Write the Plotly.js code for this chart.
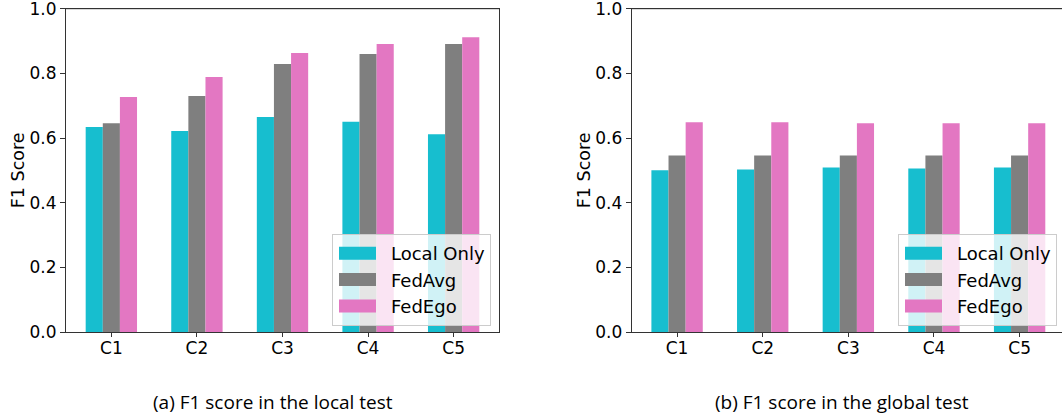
<!DOCTYPE html>
<html><head><meta charset="utf-8">
<script src="https://cdn.plot.ly/plotly-3.0.1.min.js"></script>
<style>html,body{margin:0;padding:0;overflow:hidden;background:#fff}#chart{width:1068px;height:417px}</style>
</head><body><div id="chart"></div>
<script>
const clients = ['C1','C2','C3','C4','C5'];
const methods = ['Local Only','FedAvg','FedEgo'];
const localTestLocalOnly = [0.634,0.622,0.665,0.650,0.612];
const localTestFedAvg    = [0.646,0.730,0.829,0.860,0.891];
const localTestFedEgo    = [0.727,0.789,0.863,0.891,0.912];
const globalTestLocalOnly = [0.500,0.503,0.509,0.506,0.509];
const globalTestFedAvg    = [0.546,0.546,0.546,0.546,0.546];
const globalTestFedEgo    = [0.649,0.649,0.646,0.646,0.646];
const yTicks = [0,0.2,0.4,0.6,0.8,1.0];
const captions = ['(a) F1 score in the local test','(b) F1 score in the global test'];
const colors = ['#17becf','#7f7f7f','#e377c2'];

const W = 1068, H = 417;
const font = 'DejaVu Sans';
const localSeries = [localTestLocalOnly, localTestFedAvg, localTestFedEgo];
const globalSeries = [globalTestLocalOnly, globalTestFedAvg, globalTestFedEgo];

const traces = [];
methods.forEach((m,i)=>{
  traces.push({type:'bar', x:clients, y:localSeries[i], name:m, marker:{color:colors[i], line:{width:0}},
    xaxis:'x', yaxis:'y', legend:'legend', legendgroup:'a'+i, hoverinfo:'none'});
});
methods.forEach((m,i)=>{
  traces.push({type:'bar', x:clients, y:globalSeries[i], name:m, marker:{color:colors[i], line:{width:0}},
    xaxis:'x2', yaxis:'y2', legend:'legend2', legendgroup:'b'+i, hoverinfo:'none'});
});

const yDom = [(H-332)/H, (H-8.7)/H];
const xDom1 = [66/W, 499/W];
const xDom2 = [631.7/W, 1065/W];

function xax(dom, anchor){
  return {domain:dom, anchor:anchor, type:'category', range:[-0.53,4.53], showgrid:false, zeroline:false,
    showline:true, linecolor:'#333', linewidth:1, mirror:true, ticks:'outside', ticklen:4, tickwidth:1, tickcolor:'#333',
    ticklabelstandoff:-3,
    tickfont:{family:font, size:17, color:'#000'}, fixedrange:true};
}
function yax(anchor){
  return {domain:yDom, anchor:anchor, range:[0,1], tickvals:yTicks, tickformat:'.1f', showgrid:false, zeroline:false,
    showline:true, linecolor:'#333', linewidth:1, mirror:true, ticks:'outside', ticklen:5, tickwidth:1, tickcolor:'#333',
    tickfont:{family:font, size:17, color:'#000'}, ticklabeloverflow:'allow',
    title:{text:'F1 Score', font:{family:font, size:17.5, color:'#000'}, standoff:0}, fixedrange:true};
}
function leg(xr){
  return {x:xr/W, xanchor:'right', y:(H-326)/H, yanchor:'bottom', bgcolor:'rgba(255,255,255,0.8)', bordercolor:'#cccccc',
    borderwidth:1, font:{family:font, size:18, color:'#000'}, itemwidth:48, traceorder:'grouped', tracegroupgap:0,
    itemclick:false, itemdoubleclick:false};
}
function topLine(xr, yr){
  return {type:'line', xref:xr+' domain', yref:yr+' domain', x0:0, x1:1, y0:1, y1:1, line:{color:'#333', width:1}, layer:'above'};
}

const layout = {
  width:W, height:H, margin:{l:0,r:0,t:0,b:0}, paper_bgcolor:'#fff', plot_bgcolor:'#fff',
  barmode:'group', bargap:0.4, bargroupgap:0, showlegend:true,
  xaxis:xax(xDom1,'y'), yaxis:yax('x'), xaxis2:xax(xDom2,'y2'), yaxis2:yax('x2'),
  legend:leg(491), legend2:leg(1057),
  shapes:[topLine('x','y'), topLine('x2','y2')],
  annotations:[
    {text:captions[0], xref:'paper', yref:'paper', x:273/W, y:(H-402)/H, xanchor:'center', yanchor:'middle', showarrow:false,
     font:{family:'Open Sans', size:19, color:'#000'}},
    {text:captions[1], xref:'paper', yref:'paper', x:842/W, y:(H-402)/H, xanchor:'center', yanchor:'middle', showarrow:false,
     font:{family:'Open Sans', size:19, color:'#000'}}
  ]
};

function widenLegendPatches(gd){
  gd.querySelectorAll('g.legendpoints').forEach(lp=>{
    try{
      const tg = lp.closest('g.traces');
      const p = lp.querySelector('path');
      if(!tg || !p) return;
      const t = tg.querySelector('text');
      if(!t) return;
      const tx = parseFloat(t.getAttribute('x'));
      if(!isFinite(tx)) return;
      const m = tg.getCTM().inverse().multiply(p.getCTM());
      const ox = m.e;
      const x0 = tx - 15 - 37 - ox, x1 = tx - 15 - ox;
      p.setAttribute('d', `M${x0},6.5H${x1}V-6.5H${x0}Z`);
      p.style.strokeWidth = '0px';
    }catch(e){}
  });
}

Plotly.newPlot('chart', traces, layout, {displayModeBar:false, staticPlot:true}).then(gd=>{
  widenLegendPatches(gd);
  setTimeout(()=>widenLegendPatches(gd), 50);
});
</script></body></html>
